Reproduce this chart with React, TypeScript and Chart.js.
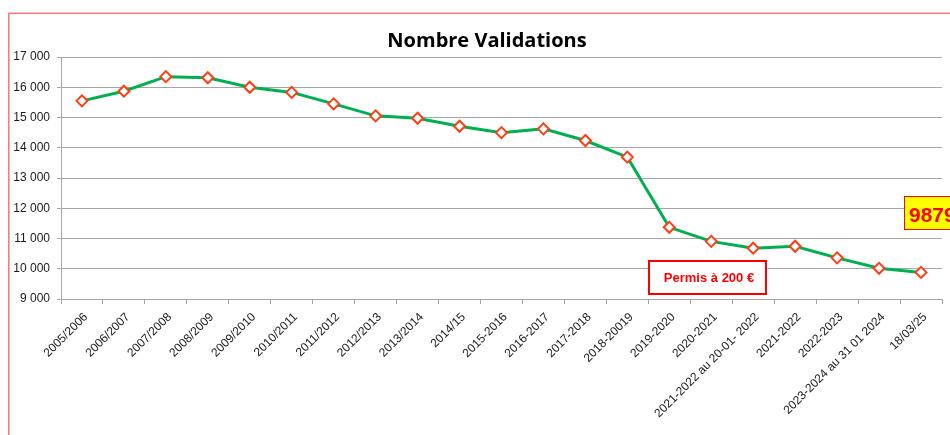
import React, { useEffect, useRef } from "react";
import { Chart, registerables } from "chart.js";

Chart.register(...registerables);

const categories = [
  "2005/2006", "2006/2007", "2007/2008", "2008/2009", "2009/2010", "2010/2011",
  "2011/2012", "2012/2013", "2013/2014", "2014/15", "2015-2016", "2016-2017",
  "2017-2018", "2018-20019", "2019-2020", "2020-2021", "2021-2022 au 20-01- 2022",
  "2021-2022", "2022-2023", "2023-2024 au 31 01 2024", "18/03/25",
];
const validations = [
  15550, 15870, 16350, 16315, 16000, 15830, 15450, 15055, 14975, 14710, 14500,
  14625, 14240, 13690, 11370, 10905, 10680, 10745, 10360, 10015, 9879,
];
const yMin = 9000;
const yMax = 17000;
const yStep = 1000;
const titleText = "Nombre Validations";
const noteText = "Permis à 200 €";
const lastValueText = "9879";

const fmt = (v: number) => {
  const s = String(Math.round(v));
  return s.replace(/\B(?=(\d{3})+(?!\d))/g, " ");
};

export default function App() {
  const ref = useRef<HTMLCanvasElement | null>(null);
  useEffect(() => {
    const canvas = ref.current;
    if (!canvas) return;
    const decor = {
      id: "decor",
      afterDraw(chart: any) {
        const ctx = chart.ctx;
        ctx.save();
        // outer chart border
        ctx.strokeStyle = "#f47c7c";
        ctx.lineWidth = 1.6;
        ctx.strokeRect(8.8, 13.3, 1100, 600);
        // title
        ctx.fillStyle = "#000";
        ctx.font = "bold 20px 'Open Sans'";
        ctx.textAlign = "center";
        ctx.textBaseline = "alphabetic";
        ctx.fillText(titleText, 487, 46.5);
        // Permis box
        ctx.fillStyle = "#fff";
        ctx.fillRect(649, 261, 117, 33);
        ctx.strokeStyle = "#ff0000";
        ctx.lineWidth = 2;
        ctx.strokeRect(649, 261, 117, 33);
        ctx.fillStyle = "#ff0000";
        ctx.font = "bold 13px 'Liberation Sans'";
        ctx.textAlign = "center";
        ctx.textBaseline = "middle";
        ctx.fillText(noteText, 709, 278);
        // last value box
        ctx.fillStyle = "#ffff00";
        ctx.fillRect(904.5, 196.5, 80, 33);
        ctx.strokeStyle = "#ff0000";
        ctx.lineWidth = 1;
        ctx.strokeRect(904.5, 196.5, 80, 33);
        ctx.fillStyle = "#ff0000";
        ctx.font = "bold 21px 'Liberation Sans'";
        ctx.textAlign = "left";
        ctx.textBaseline = "alphabetic";
        ctx.fillText(lastValueText, 909, 222);
        ctx.restore();
      },
    };
    const chart = new Chart(canvas, {
      type: "line",
      data: {
        labels: categories,
        datasets: [
          {
            data: validations,
            borderColor: "#00b050",
            borderWidth: 3,
            pointStyle: "rectRot",
            pointRadius: 5.5,
            pointBorderWidth: 2,
            pointBorderColor: "#ff3c14",
            pointBackgroundColor: "#ffffff",
            tension: 0,
          },
        ],
      },
      options: {
        responsive: false,
        animation: false,
        devicePixelRatio: 1,
        layout: { padding: { left: 0, right: 8, top: 57, bottom: 0 } },
        plugins: {
          legend: { display: false },
          title: { display: false },
          tooltip: { enabled: false },
        },
        scales: {
          x: {
            type: "category",
            offset: true,
            afterFit: (s: any) => {
              s.height = 136;
            },
            grid: {
              offset: true,
              drawOnChartArea: false,
              drawTicks: true,
              tickLength: 5,
              color: "#a6a6a6",
            },
            border: { color: "#a6a6a6", width: 1 },
            ticks: {
              autoSkip: false,
              minRotation: 45,
              maxRotation: 45,
              padding: 6,
              labelOffset: 4,
              color: "#1a1a1a",
              font: { family: "'Liberation Sans'", size: 12 },
            },
          },
          y: {
            min: yMin,
            max: yMax,
            afterFit: (s: any) => {
              s.width = 61;
            },
            grid: { color: "#a6a6a6", tickLength: 4 },
            border: { color: "#a6a6a6", width: 1 },
            ticks: {
              stepSize: yStep,
              padding: 7,
              color: "#1a1a1a",
              font: { family: "'Liberation Sans'", size: 12 },
              callback: (v: any) => fmt(Number(v)),
            },
          },
        },
      },
      plugins: [decor],
    });
    return () => chart.destroy();
  }, []);
  return (
    <div
      style={{
        position: "fixed",
        left: 0,
        top: 0,
        width: 950,
        height: 435,
        overflow: "hidden",
        background: "#fff",
      }}
    >
      <canvas ref={ref} width={950} height={435} style={{ display: "block" }} />
    </div>
  );
}
